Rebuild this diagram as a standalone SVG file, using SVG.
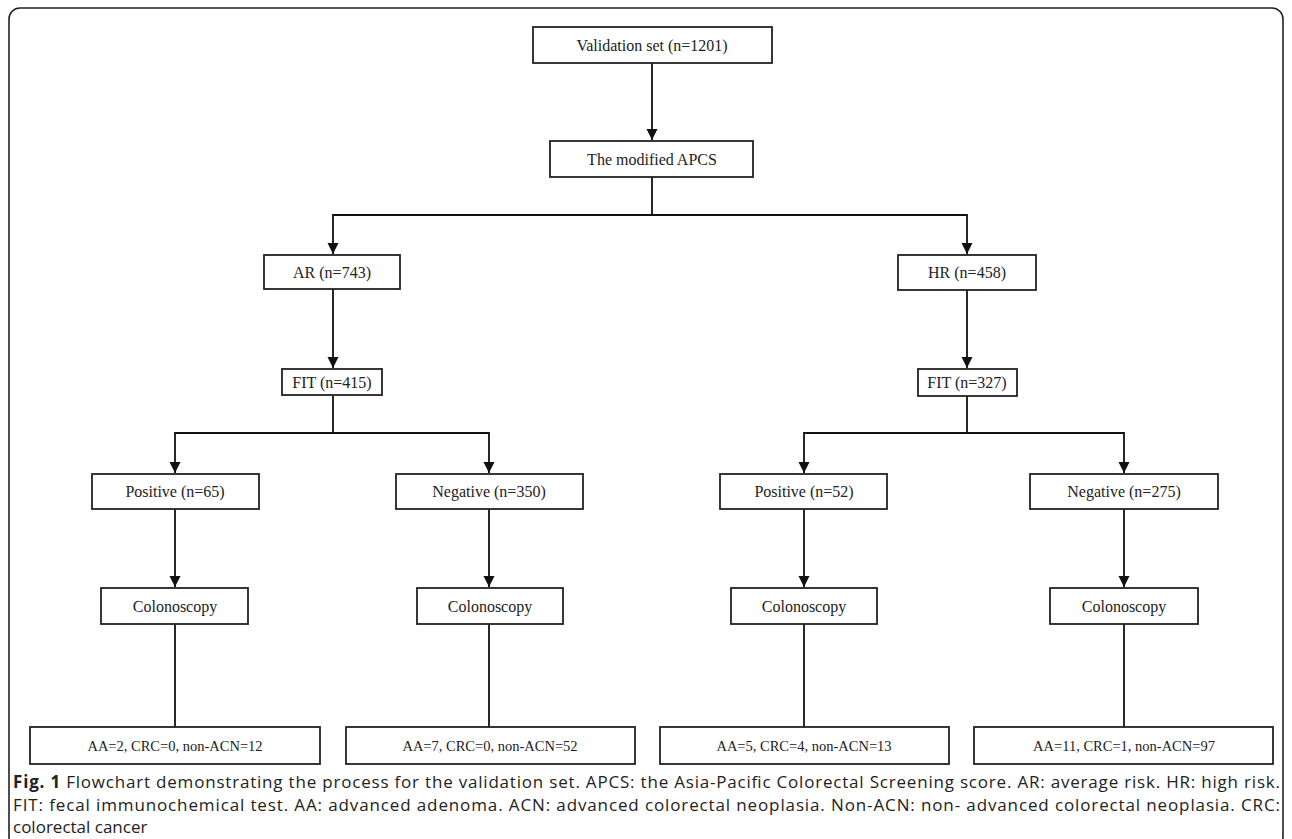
<svg xmlns="http://www.w3.org/2000/svg" width="1292" height="839" viewBox="0 0 1292 839">
<defs>
<marker id="arr" markerUnits="userSpaceOnUse" markerWidth="12" markerHeight="12" refX="11" refY="6" orient="auto">
<path d="M0,0.5 L11,6 L0,11.5 z" fill="#111"/>
</marker>
<style>
.box{fill:#fff;stroke:#222;stroke-width:1.8}
.lbl{font-family:"Liberation Serif","DejaVu Serif",serif;font-size:16px;fill:#222;text-anchor:middle}
.res{font-family:"Liberation Serif","DejaVu Serif",serif;font-size:14.5px;fill:#222;text-anchor:middle}
.ln{fill:none;stroke:#111;stroke-width:1.8}
.cap{font-family:"Open Sans","Liberation Sans",sans-serif;font-size:17px;fill:#222}
</style>
</defs>
<rect x="0" y="0" width="1292" height="839" fill="#fff"/>
<rect x="9" y="8" width="1274" height="840" rx="11" fill="none" stroke="#222" stroke-width="1.6"/>
<g id="connectors">
<path class="ln" d="M652,63 V140" marker-end="url(#arr)"/>
<path class="ln" d="M652,177 V215 H333 V254" marker-end="url(#arr)"/>
<path class="ln" d="M652,215 H967 V254" marker-end="url(#arr)"/>
<path class="ln" d="M333,289 V368" marker-end="url(#arr)"/>
<path class="ln" d="M967,290 V368" marker-end="url(#arr)"/>
<path class="ln" d="M333,395 V433 H175 V473" marker-end="url(#arr)"/>
<path class="ln" d="M333,433 H489 V473" marker-end="url(#arr)"/>
<path class="ln" d="M967,396 V433 H804 V473" marker-end="url(#arr)"/>
<path class="ln" d="M967,433 H1124 V473" marker-end="url(#arr)"/>
<path class="ln" d="M175,509 V587" marker-end="url(#arr)"/>
<path class="ln" d="M489,509 V587" marker-end="url(#arr)"/>
<path class="ln" d="M804,509 V587" marker-end="url(#arr)"/>
<path class="ln" d="M1124,509 V587" marker-end="url(#arr)"/>
<path class="ln" d="M175,624 V727"/>
<path class="ln" d="M489,624 V727"/>
<path class="ln" d="M804,624 V727"/>
<path class="ln" d="M1124,624 V727"/>
</g>
<g id="n-validation"><rect class="box" x="533" y="27" width="239" height="36"/><text class="lbl" x="652" y="50.5">Validation set (n=1201)</text></g>
<g id="n-apcs"><rect class="box" x="550" y="141" width="203" height="36"/><text class="lbl" x="652" y="164.5">The modified APCS</text></g>
<g id="n-ar"><rect class="box" x="264" y="255" width="136" height="34"/><text class="lbl" x="332" y="277.5">AR (n=743)</text></g>
<g id="n-hr"><rect class="box" x="898" y="255" width="138" height="35"/><text class="lbl" x="967" y="278">HR (n=458)</text></g>
<g id="n-fit1"><rect class="box" x="282" y="369" width="100" height="26"/><text class="lbl" x="332" y="387.5">FIT (n=415)</text></g>
<g id="n-fit2"><rect class="box" x="918" y="369" width="99" height="27"/><text class="lbl" x="967" y="388">FIT (n=327)</text></g>
<g id="n-pos1"><rect class="box" x="92" y="474" width="167" height="35"/><text class="lbl" x="175" y="497">Positive (n=65)</text></g>
<g id="n-neg1"><rect class="box" x="396" y="474" width="187" height="35"/><text class="lbl" x="489" y="497">Negative (n=350)</text></g>
<g id="n-pos2"><rect class="box" x="720" y="474" width="167" height="35"/><text class="lbl" x="804" y="497">Positive (n=52)</text></g>
<g id="n-neg2"><rect class="box" x="1030" y="474" width="188" height="35"/><text class="lbl" x="1124" y="497">Negative (n=275)</text></g>
<g id="n-col1"><rect class="box" x="101" y="588" width="147" height="36"/><text class="lbl" x="175" y="611.5">Colonoscopy</text></g>
<g id="n-col2"><rect class="box" x="417" y="588" width="146" height="36"/><text class="lbl" x="490" y="611.5">Colonoscopy</text></g>
<g id="n-col3"><rect class="box" x="731" y="588" width="146" height="36"/><text class="lbl" x="804" y="611.5">Colonoscopy</text></g>
<g id="n-col4"><rect class="box" x="1050" y="588" width="148" height="36"/><text class="lbl" x="1124" y="611.5">Colonoscopy</text></g>
<g id="n-res1"><rect class="box" x="30" y="727" width="290" height="37"/><text class="res" x="175" y="750.5">AA=2, CRC=0, non-ACN=12</text></g>
<g id="n-res2"><rect class="box" x="346" y="727" width="289" height="37"/><text class="res" x="490" y="750.5">AA=7, CRC=0, non-ACN=52</text></g>
<g id="n-res3"><rect class="box" x="660" y="727" width="289" height="37"/><text class="res" x="804" y="750.5">AA=5, CRC=4, non-ACN=13</text></g>
<g id="n-res4"><rect class="box" x="974" y="727" width="299" height="37"/><text class="res" x="1124" y="750.5">AA=11, CRC=1, non-ACN=97</text></g>
<g id="caption">
<text class="cap" x="13" y="788" textLength="1267" lengthAdjust="spacing"><tspan font-weight="bold">Fig. 1</tspan> Flowchart demonstrating the process for the validation set. APCS: the Asia-Pacific Colorectal Screening score. AR: average risk. HR: high risk.</text>
<text class="cap" x="13" y="811" textLength="1267" lengthAdjust="spacing">FIT: fecal immunochemical test. AA: advanced adenoma. ACN: advanced colorectal neoplasia. Non-ACN: non- advanced colorectal neoplasia. CRC:</text>
<text class="cap" x="13" y="833">colorectal cancer</text>
</g>
</svg>
